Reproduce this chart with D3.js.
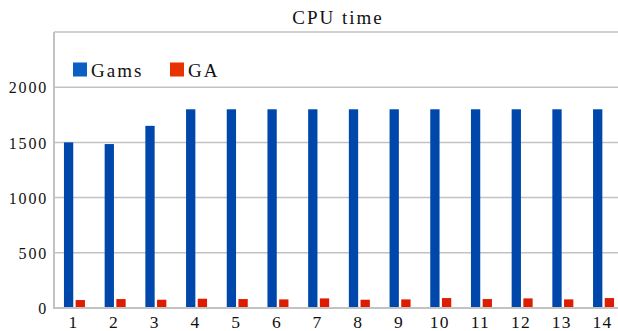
<!DOCTYPE html>
<html>
<head>
<meta charset="utf-8">
<script src="https://cdn.jsdelivr.net/npm/d3@7"></script>
<style>
  html, body { margin: 0; padding: 0; background: #fff; }
  svg { display: block; }
</style>
</head>
<body>
<svg id="chart" width="618" height="331"></svg>
<script>
const categories = ["1","2","3","4","5","6","7","8","9","10","11","12","13","14"];
const series = ["Gams", "GA"];
const gamsValues = [1500, 1485, 1650, 1800, 1800, 1800, 1800, 1800, 1800, 1800, 1800, 1800, 1800, 1800];
const gaValues = [72, 81, 75, 84, 81, 78, 87, 75, 78, 90, 81, 87, 78, 90];
const yTicks = [0, 500, 1000, 1500, 2000];
const yGrid = [500, 1000, 1500, 2000, 2500];
const title = "CPU time";

const barColors = { Gams: "#0047ab", GA: "#dd1c00" };
const legendColors = { Gams: "#0a5ec4", GA: "#e63300" };
const FONT = "'Liberation Serif', 'Times New Roman', serif";
const INK = "#111";

const svg = d3.select("#chart");
const plotLeft = 54, plotRight = 618;

const x0 = d3.scaleBand().domain(categories).range([53, 53 + 14 * 40.7]).paddingInner(0).paddingOuter(0);
const x1 = d3.scaleBand().domain(series).range([-9.4, 11.6]).paddingInner(0.205).paddingOuter(0);
const y = d3.scaleLinear().domain([0, 2500]).range([308, 32]);

svg.append("g").selectAll("line").data(yGrid).join("line")
  .attr("x1", plotLeft).attr("x2", plotRight)
  .attr("y1", d => y(d)).attr("y2", d => y(d))
  .attr("stroke", "#c2c2c2").attr("stroke-width", 1.5);

const data = categories.map((c, i) => ({ c, Gams: gamsValues[i], GA: gaValues[i] }));
const groups = svg.append("g").selectAll("g").data(data).join("g")
  .attr("transform", d => `translate(${x0(d.c) + x0.bandwidth() / 2},0)`);
groups.selectAll("rect").data(d => series.map(s => ({ s, v: d[s] }))).join("rect")
  .attr("x", d => x1(d.s))
  .attr("width", x1.bandwidth())
  .attr("y", d => y(d.v))
  .attr("height", d => y(0) - y(d.v))
  .attr("fill", d => barColors[d.s]);

svg.append("line").attr("x1", plotLeft).attr("x2", plotLeft).attr("y1", y(2500)).attr("y2", y(0) + 1)
  .attr("stroke", "#c2c2c2").attr("stroke-width", 2);
svg.append("line").attr("x1", plotLeft - 1).attr("x2", plotRight).attr("y1", y(0)).attr("y2", y(0))
  .attr("stroke", "#c2c2c2").attr("stroke-width", 2);

const yAxis = d3.axisLeft(y).tickValues(yTicks).tickSize(0).tickPadding(6).tickFormat(d3.format("d"));
const yg = svg.append("g").attr("transform", `translate(${plotLeft},0)`).call(yAxis);
yg.attr("font-family", null);
yg.select(".domain").remove();
yg.selectAll("text").style("font-family", FONT).style("font-size", "16px").style("letter-spacing", "1.8px")
  .attr("fill", INK).attr("dy", "0.36em");

const xAxis = d3.axisBottom(x0).tickSize(0).tickPadding(8);
const xg = svg.append("g").attr("transform", `translate(0,${y(0)})`).call(xAxis);
xg.attr("font-family", null);
xg.select(".domain").remove();
xg.selectAll("text").style("font-family", FONT).style("font-size", "17.5px").style("letter-spacing", "1.2px")
  .attr("fill", INK).attr("dy", "0.7em");

svg.append("text").attr("x", 338).attr("y", 24).attr("text-anchor", "middle")
  .style("font-family", FONT).style("font-size", "19px").style("letter-spacing", "2px")
  .attr("fill", INK).text(title);

const legendItems = [{ s: "Gams", x: 73 }, { s: "GA", x: 170 }];
const lg = svg.append("g");
legendItems.forEach(it => {
  lg.append("rect").attr("x", it.x).attr("y", 62.5).attr("width", 14).attr("height", 14).attr("fill", legendColors[it.s]);
  lg.append("text").attr("x", it.x + 18).attr("y", 76.5)
    .style("font-family", FONT).style("font-size", "19px").style("letter-spacing", "2px")
    .attr("fill", INK).text(it.s);
});
</script>
</body>
</html>
